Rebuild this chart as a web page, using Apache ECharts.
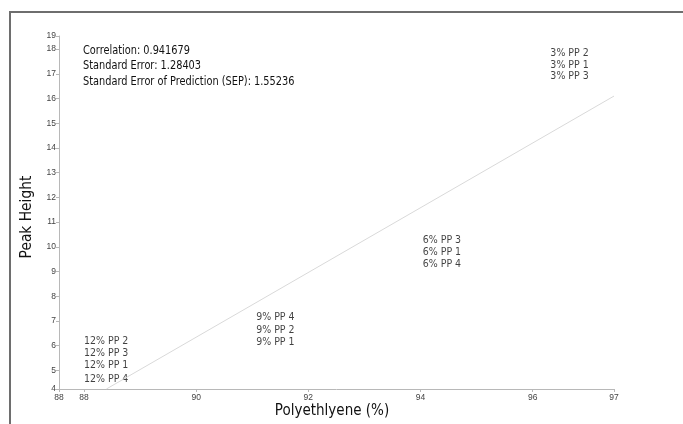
<!DOCTYPE html>
<html>
<head>
<meta charset="utf-8">
<script src="https://cdn.jsdelivr.net/npm/echarts@6/dist/echarts.min.js"></script>
<style>
  html, body { margin: 0; padding: 0; background: #fff; }
  #chart { width: 683px; height: 424px; }
</style>
</head>
<body>
<div id="chart"></div>
<script>
// Polypropylene blends: peak height against polyethylene content
const groupNames = ['12%', '9%', '6%', '3%'];
const groupPE = [88, 91.07, 94.04, 97];
const sampleNames = [
  ['PP 2', 'PP 3', 'PP 1', 'PP 4'],
  ['PP 4', 'PP 2', 'PP 1'],
  ['PP 3', 'PP 1', 'PP 4'],
  ['PP 2', 'PP 1', 'PP 3']
];
const peakHeights = [
  [6.17, 5.70, 5.22, 4.65],
  [7.16, 6.62, 6.13],
  [10.28, 9.77, 9.28],
  [17.82, 17.35, 16.89]
];

// Fitted calibration line (end points)
const fitX = [88.40, 97.45];
const fitY = [4.25, 16.10];

// Axis extents and tick values
const xMin = 87.555, xMax = 97.45;
const yMin = 4.25, yMax = 18.53;
const xTicks = [87.555, 88, 90, 92, 94, 96, 97.45];
const yTicks = [4.25, 5, 6, 7, 8, 9, 10, 11, 12, 13, 14, 15, 16, 17, 18, 18.53];

const statLines = [
  'Correlation: 0.941679',
  'Standard Error: 1.28403',
  'Standard Error of Prediction (SEP): 1.55236'
];

const FONT = "'DejaVu Sans Condensed', 'Open Sans', sans-serif";
const TICK_FONT = "'Liberation Sans', Arial, sans-serif";

const chart = echarts.init(document.getElementById('chart'), null, { renderer: 'canvas' });

const series = groupNames.map((g, gi) => ({
  type: 'scatter',
  symbolSize: 0,
  silent: true,
  data: peakHeights[gi].map((v, i) => ({ value: [groupPE[gi], v], name: g + ' ' + sampleNames[gi][i] })),
  label: {
    show: true,
    position: gi === groupNames.length - 1 ? 'left' : 'right',
    distance: 0,
    formatter: p => p.name,
    color: '#111',
    fontSize: 10.5,
    fontFamily: FONT
  }
}));

series.unshift({
  type: 'line',
  silent: true,
  symbol: 'none',
  data: fitX.map((x, i) => [x, fitY[i]]),
  lineStyle: { color: '#d9d9d9', width: 1 }
});

const axisCommon = {
  type: 'value',
  axisLine: { show: true, lineStyle: { color: '#b8b8b8', width: 1 } },
  axisTick: { show: true, length: 3, lineStyle: { color: '#b8b8b8' } },
  splitLine: { show: false },
  axisLabel: {
    color: '#444',
    fontSize: 8.5,
    fontFamily: TICK_FONT,
    formatter: v => String(Math.round(v))
  }
};

chart.setOption({
  animation: false,
  backgroundColor: '#fff',
  grid: { left: 59, right: 69, top: 36, bottom: 35, containLabel: false },
  xAxis: Object.assign({}, axisCommon, {
    min: xMin, max: xMax,
    axisTick: Object.assign({}, axisCommon.axisTick, { customValues: xTicks }),
    axisLabel: Object.assign({}, axisCommon.axisLabel, { customValues: xTicks, margin: 4 })
  }),
  yAxis: Object.assign({}, axisCommon, {
    min: yMin, max: yMax,
    axisTick: Object.assign({}, axisCommon.axisTick, { customValues: yTicks }),
    axisLabel: Object.assign({}, axisCommon.axisLabel, { customValues: yTicks, margin: 3 })
  }),
  series: series,
  graphic: [
    {
      type: 'rect',
      silent: true,
      shape: { x: 10, y: 12, width: 720, height: 460 },
      style: { fill: 'none', stroke: '#6e6e6e', lineWidth: 2 }
    },
    {
      type: 'text',
      x: 83, y: 43,
      scaleX: 0.87,
      style: {
        text: statLines.join('\n'),
        fill: '#111',
        font: '12.5px ' + FONT,
        lineHeight: 15.3
      }
    },
    {
      type: 'text',
      x: 27, y: 217,
      rotation: Math.PI / 2,
      scaleX: 0.93,
      style: {
        text: 'Peak Height',
        fill: '#111',
        font: '16.5px ' + FONT,
        align: 'center',
        verticalAlign: 'middle'
      }
    },
    {
      type: 'text',
      x: 332, y: 411,
      scaleX: 0.91,
      style: {
        text: 'Polyethlyene (%)',
        fill: '#111',
        font: '16.5px ' + FONT,
        align: 'center',
        verticalAlign: 'middle'
      }
    }
  ]
});
</script>
</body>
</html>
